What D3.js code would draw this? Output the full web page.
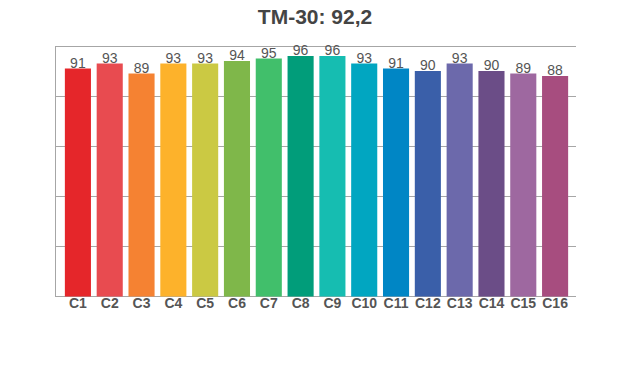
<!DOCTYPE html>
<html><head><meta charset="utf-8">
<script src="https://cdn.jsdelivr.net/npm/d3@7"></script>
<style>body{margin:0;background:#fff}</style>
</head><body>
<svg id="c" width="620" height="370"></svg>
<script>
const categories = ["C1","C2","C3","C4","C5","C6","C7","C8","C9","C10","C11","C12","C13","C14","C15","C16"];
const values = [91,93,89,93,93,94,95,96,96,93,91,90,93,90,89,88];
const colors = ["#e5262a","#e84b50","#f58232","#fdb22b","#cbc943","#7fb74a","#41bf6b","#019d7a","#16bdb1","#01a6c1","#0086c5","#3a5fa9","#6c69ab","#6b4d87","#9e68a0","#a74d7f"];
const yTicks = [0,20,40,60,80,100];
const title = "TM-30: 92,2";

(function(){
const svg = d3.select("#c");
const mLeft = 55.5, mRight = 576, mTop = 46, mBottom = 296;
const x = d3.scaleBand().domain(categories).range([62,571]).paddingInner(0.18).paddingOuter(0.09);
const y = d3.scaleLinear().domain([0,100]).range([mBottom, mTop]);

svg.append("text").attr("x",315).attr("y",24).attr("text-anchor","middle")
  .attr("font-family","Liberation Sans, Arial, sans-serif").attr("font-weight","bold")
  .attr("font-size",21).attr("fill","#444").text(title);

svg.append("g").selectAll("line").data(yTicks).join("line")
  .attr("x1",mLeft).attr("x2",mRight)
  .attr("y1",d=>Math.round(y(d))+0.5).attr("y2",d=>Math.round(y(d))+0.5)
  .attr("stroke","#a6a6a6").attr("stroke-width",1);
svg.append("line").attr("x1",mLeft).attr("x2",mLeft).attr("y1",y(100)).attr("y2",y(0)+1)
  .attr("stroke","#a6a6a6");

svg.append("g").selectAll("rect").data(values).join("rect")
  .attr("x",(d,i)=>x(categories[i])).attr("width",x.bandwidth())
  .attr("y",d=>y(d)).attr("height",d=>y(0)-y(d)+0.5)
  .attr("fill",(d,i)=>colors[i]);

svg.append("g").selectAll("text").data(values).join("text")
  .attr("x",(d,i)=>x(categories[i])+x.bandwidth()/2).attr("y",d=>y(d)-1)
  .attr("text-anchor","middle").attr("font-family","Liberation Sans, Arial, sans-serif")
  .attr("font-size",14).attr("fill","#555").text(d=>d);

svg.append("g").selectAll("text").data(categories).join("text")
  .attr("x",d=>x(d)+x.bandwidth()/2).attr("y",308)
  .attr("text-anchor","middle").attr("font-family","Liberation Sans, Arial, sans-serif")
  .attr("font-weight","bold").attr("font-size",14).attr("fill","#555").text(d=>d);
})();
</script>
</body></html>
